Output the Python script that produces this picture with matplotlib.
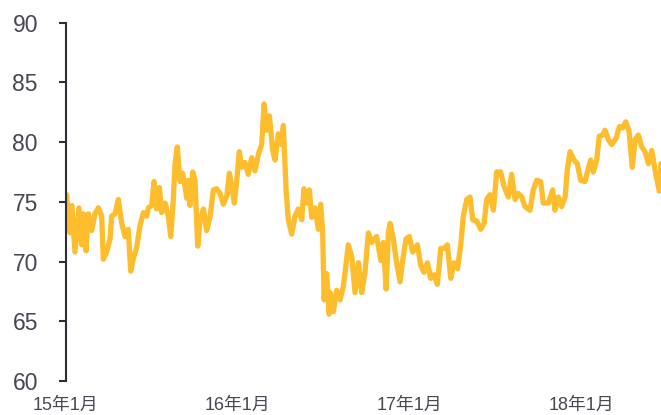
import matplotlib
matplotlib.use("Agg")
import matplotlib.pyplot as plt

# fractional years since 2015-01 (x) and values (y)
years = [0.006, 0.015, 0.025, 0.035, 0.054, 0.077, 0.093, 0.103, 0.118, 0.132,
         0.151, 0.170, 0.190, 0.209, 0.219, 0.238, 0.258, 0.267, 0.287, 0.306,
         0.326, 0.345, 0.364, 0.378, 0.394, 0.413, 0.432, 0.452, 0.471, 0.481,
         0.500, 0.514, 0.529, 0.545, 0.558, 0.578, 0.597, 0.611, 0.626, 0.636,
         0.649, 0.665, 0.680, 0.694, 0.704, 0.713, 0.723, 0.739, 0.752, 0.768,
         0.782, 0.801, 0.820, 0.840, 0.859, 0.878, 0.898, 0.917, 0.937, 0.952,
         0.966, 0.981, 0.995, 1.010, 1.024, 1.043, 1.062, 1.082, 1.101, 1.121,
         1.140, 1.154, 1.169, 1.185, 1.204, 1.218, 1.237, 1.256, 1.266, 1.282,
         1.295, 1.315, 1.334, 1.353, 1.373, 1.386, 1.402, 1.417, 1.431, 1.450,
         1.470, 1.483, 1.495, 1.503, 1.518, 1.533,
         1.538, 1.557, 1.576, 1.596, 1.615, 1.644, 1.664, 1.683, 1.703, 1.722,
         1.741, 1.761, 1.780, 1.809, 1.833, 1.848, 1.864, 1.877, 1.887, 1.906,
         1.925, 1.945, 1.960, 1.980, 1.999, 2.018, 2.046, 2.065, 2.084, 2.104,
         2.123, 2.143, 2.162, 2.182, 2.201, 2.220, 2.240, 2.259, 2.279, 2.298,
         2.313, 2.333, 2.352, 2.368, 2.391, 2.414, 2.434, 2.449, 2.468, 2.488,
         2.507, 2.530, 2.550, 2.575, 2.594, 2.614, 2.633, 2.653, 2.672, 2.701,
         2.720, 2.740, 2.763, 2.778, 2.808, 2.833, 2.846, 2.866, 2.885, 2.905,
         2.918, 2.934, 2.957, 2.976, 2.996, 3.021, 3.040, 3.054, 3.069, 3.089,
         3.104, 3.124, 3.137, 3.157, 3.176, 3.201, 3.221, 3.240, 3.258, 3.277,
         3.296, 3.312, 3.331, 3.351, 3.370, 3.390, 3.409, 3.428, 3.453, 3.463]
values = [75.6, 73.2, 72.4, 74.7, 70.8, 74.5, 71.4, 74.0, 70.9, 74.0,
          72.6, 74.0, 74.5, 73.8, 70.2, 70.8, 71.9, 73.8, 74.0, 75.2,
          73.2, 72.1, 72.7, 69.2, 70.3, 71.2, 73.0, 74.1, 73.8, 74.5,
          74.7, 76.7, 74.4, 76.2, 74.1, 74.9, 73.8, 72.1, 75.2, 78.2,
          79.6, 76.7, 77.4, 76.3, 75.3, 76.8, 74.7, 77.5, 76.8, 71.3,
          73.5, 74.4, 72.6, 73.8, 76.0, 76.1, 75.7, 74.8, 75.5, 77.4,
          76.3, 74.9, 76.8, 79.2, 77.9, 78.3, 77.3, 78.7, 77.6, 79.0,
          79.8, 83.2, 81.0, 82.2, 79.3, 78.5, 80.7, 79.8, 81.4, 76.0,
          73.5, 72.3, 73.8, 74.4, 73.5, 76.1, 74.9, 76.0, 73.7, 74.5,
          72.7, 74.8, 72.4, 66.8, 69.0, 65.6,
          67.4, 65.8, 67.6, 66.8, 67.9, 71.4, 70.4, 67.4, 69.9, 67.4,
          69.1, 72.4, 71.6, 72.1, 70.1, 71.6, 67.7, 72.4, 73.2, 71.9,
          69.9, 68.3, 70.1, 71.9, 72.1, 70.8, 71.4, 69.7, 69.1, 69.9,
          68.6, 68.9, 68.1, 71.1, 71.1, 71.4, 68.6, 69.9, 69.4, 71.4,
          73.8, 75.2, 75.4, 73.5, 73.4, 72.7, 73.2, 75.2, 75.6, 74.3,
          77.5, 77.5, 76.3, 75.4, 77.3, 75.2, 75.7, 75.4, 74.6, 74.3,
          76.0, 76.8, 76.7, 74.9, 74.9, 76.0, 74.3, 75.4, 74.6, 75.4,
          77.7, 79.2, 78.5, 78.2, 76.8, 76.7, 77.8, 78.5, 77.5, 78.5,
          80.5, 80.6, 81.0, 80.2, 79.8, 80.3, 81.3, 81.2, 81.7, 80.9,
          77.9, 80.2, 80.6, 79.6, 79.2, 78.2, 79.3, 77.7, 75.9, 78.2]

tick_pos = [0, 1, 2, 3]
tick_labels = ["15年1月", "16年1月", "17年1月", "18年1月"]
y_ticks = [60, 65, 70, 75, 80, 85, 90]

plt.rcParams['font.family'] = ['Liberation Sans', 'Noto Sans CJK JP', 'DejaVu Sans']

fig = plt.figure(figsize=(6.61, 4.15), dpi=100)
ax = fig.add_axes([0.0994, 0.0819, 0.9006, 0.8634])

ax.plot(years, values, color="#FDBD2C", linewidth=3.8, solid_joinstyle="round",
        solid_capstyle="round")

ax.set_xlim(0, 3.463)
ax.set_ylim(60, 90)
ax.set_yticks(y_ticks)
ax.set_xticks(tick_pos)
ax.set_xticklabels(tick_labels)

for s in ["top", "right", "bottom"]:
    ax.spines[s].set_visible(False)
ax.spines["left"].set_color("#2e2e36")
ax.spines["left"].set_linewidth(1.5)

ax.tick_params(axis="y", length=5, width=1.5, color="#2e2e36", pad=15,
               labelsize=16.5, labelcolor="#474752")
ax.tick_params(axis="x", length=0, pad=11.5, labelsize=12.9, labelcolor="#474752")

fig.savefig("out.png", dpi=100)
